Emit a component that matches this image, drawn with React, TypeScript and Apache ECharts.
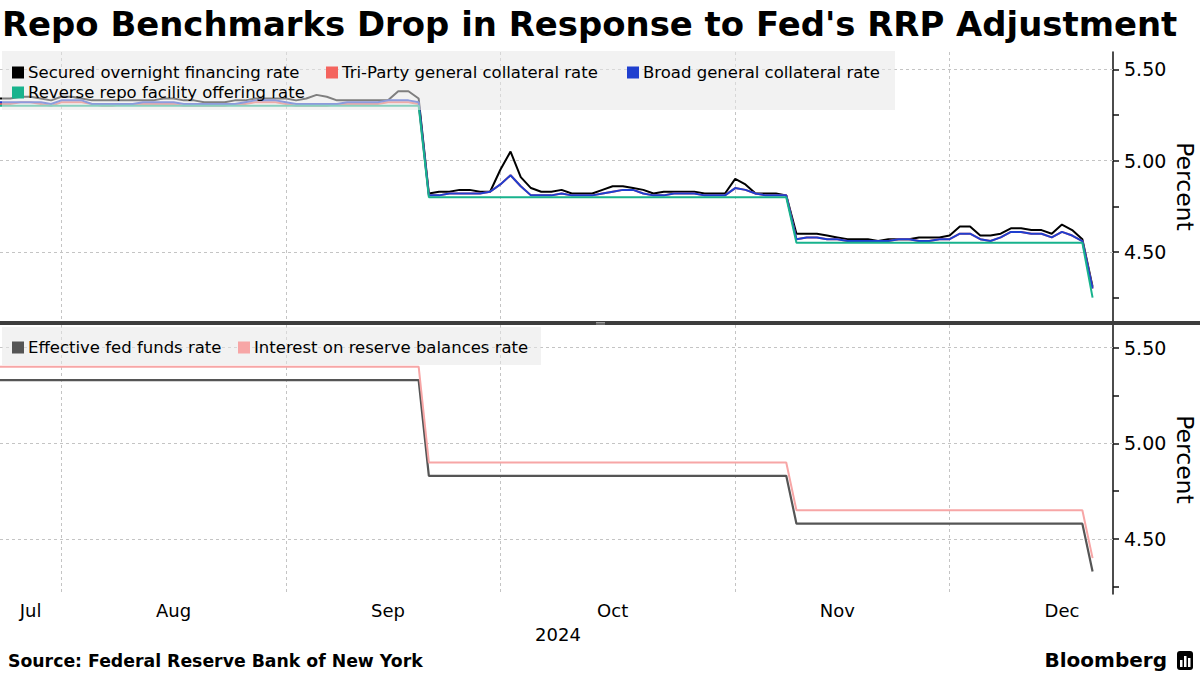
import React, { useEffect, useRef } from "react";
import * as echarts from "echarts";

// ---- categories: weekdays shown on the axis ----
const julDays = [23, 24, 25, 26, 29, 30, 31];
const augDays = [1, 2, 5, 6, 7, 8, 9, 12, 13, 14, 15, 16, 19, 20, 21, 22, 23, 26, 27, 28, 29, 30];
const sepDays = [2, 3, 4, 5, 6, 9, 10, 11, 12, 13, 16, 17, 18, 19, 20, 23, 24, 25, 26, 27, 30];
const octDays = [1, 2, 3, 4, 7, 8, 9, 10, 11, 14, 15, 16, 17, 18, 21, 22, 23, 24, 25, 28, 29, 30, 31];
const novDays = [1, 4, 5, 6, 7, 8, 11, 12, 13, 14, 15, 18, 19, 20, 21, 22, 25, 26, 27, 28, 29];
const decDays = [2, 3, 4, 5, 6, 9, 10, 11, 12, 13, 16, 17, 18, 19, 20, 23];

const monthLabelDates: Record<string, string> = {
  "2024-07-26": "Jul",
  "2024-08-15": "Aug",
  "2024-09-13": "Sep",
  "2024-10-15": "Oct",
  "2024-11-14": "Nov",
  "2024-12-16": "Dec",
};
const monthEndDates = ["2024-07-31", "2024-08-30", "2024-09-30", "2024-10-31", "2024-11-29"];
const yearLabel = "2024";

// ---- top panel series ----
const sofr = [
  5.34, 5.34, 5.35, 5.35, 5.34, 5.33, 5.35,
  5.35, 5.34, 5.33, 5.33, 5.33, 5.33, 5.33, 5.33, 5.33, 5.34, 5.34, 5.33, 5.33, 5.32, 5.32, 5.32, 5.33, 5.33, 5.34, 5.34, 5.34, 5.34,
  5.33, 5.34, 5.36, 5.35, 5.33, 5.33, 5.33, 5.33, 5.33, 5.33, 5.38, 5.38, 5.34, 4.82, 4.83, 4.83, 4.84, 4.84, 4.83, 4.83, 4.95,
  5.05, 4.91, 4.85, 4.83, 4.83, 4.84, 4.82, 4.82, 4.82, 4.84, 4.86, 4.86, 4.85, 4.84, 4.82, 4.83, 4.83, 4.83, 4.83, 4.82, 4.82, 4.82, 4.90,
  4.87, 4.82, 4.82, 4.82, 4.81, 4.60, 4.60, 4.60, 4.59, 4.58, 4.57, 4.57, 4.57, 4.56, 4.57, 4.57, 4.57, 4.58, 4.58, 4.58, 4.59,
  4.64, 4.64, 4.59, 4.59, 4.60, 4.63, 4.63, 4.62, 4.62, 4.60, 4.65, 4.62, 4.57, 4.31,
];
const tgcr = [
  5.31, 5.31, 5.32, 5.32, 5.31, 5.30, 5.32,
  5.32, 5.32, 5.31, 5.30, 5.30, 5.31, 5.31, 5.31, 5.31, 5.31, 5.31, 5.30, 5.30, 5.30, 5.30, 5.30, 5.31, 5.31, 5.32, 5.32, 5.32, 5.31,
  5.30, 5.30, 5.30, 5.30, 5.31, 5.31, 5.31, 5.31, 5.31, 5.32, 5.32, 5.32, 5.31, 4.81, 4.81, 4.82, 4.82, 4.82, 4.82, 4.83, 4.87,
  4.92, 4.86, 4.81, 4.81, 4.81, 4.82, 4.81, 4.81, 4.81, 4.82, 4.83, 4.84, 4.84, 4.82, 4.81, 4.81, 4.82, 4.82, 4.82, 4.81, 4.81, 4.81, 4.85,
  4.84, 4.82, 4.81, 4.81, 4.81, 4.57, 4.58, 4.58, 4.57, 4.57, 4.56, 4.56, 4.56, 4.56, 4.56, 4.57, 4.57, 4.56, 4.56, 4.57, 4.57,
  4.60, 4.60, 4.57, 4.56, 4.58, 4.61, 4.61, 4.60, 4.60, 4.58, 4.61, 4.59, 4.56, 4.30,
];
const bgcr = [
  5.32, 5.32, 5.32, 5.32, 5.32, 5.31, 5.33,
  5.33, 5.33, 5.31, 5.31, 5.31, 5.31, 5.31, 5.32, 5.32, 5.32, 5.32, 5.31, 5.31, 5.31, 5.31, 5.31, 5.31, 5.32, 5.33, 5.33, 5.33, 5.32,
  5.31, 5.31, 5.31, 5.31, 5.31, 5.32, 5.32, 5.32, 5.32, 5.33, 5.33, 5.33, 5.32, 4.81, 4.81, 4.82, 4.82, 4.82, 4.82, 4.83, 4.87,
  4.92, 4.86, 4.81, 4.81, 4.81, 4.82, 4.81, 4.81, 4.81, 4.82, 4.83, 4.84, 4.84, 4.82, 4.81, 4.81, 4.82, 4.82, 4.82, 4.81, 4.81, 4.81, 4.85,
  4.84, 4.82, 4.81, 4.81, 4.81, 4.57, 4.58, 4.58, 4.57, 4.57, 4.56, 4.56, 4.56, 4.56, 4.56, 4.57, 4.57, 4.56, 4.56, 4.57, 4.57,
  4.60, 4.60, 4.57, 4.56, 4.58, 4.61, 4.61, 4.60, 4.60, 4.58, 4.61, 4.59, 4.56, 4.30,
];
// step series given at their change points
const rrp: [string, number][] = [
  ["2024-07-23", 5.3], ["2024-09-18", 5.3], ["2024-09-19", 4.8], ["2024-11-07", 4.8],
  ["2024-11-08", 4.55], ["2024-12-18", 4.55], ["2024-12-19", 4.25],
];
// ---- bottom panel series ----
const effr: [string, number][] = [
  ["2024-07-23", 5.33], ["2024-09-18", 5.33], ["2024-09-19", 4.83], ["2024-11-07", 4.83],
  ["2024-11-08", 4.58], ["2024-12-18", 4.58], ["2024-12-19", 4.33],
];
const iorb: [string, number][] = [
  ["2024-07-23", 5.4], ["2024-09-18", 5.4], ["2024-09-19", 4.9], ["2024-11-07", 4.9],
  ["2024-11-08", 4.65], ["2024-12-18", 4.65], ["2024-12-19", 4.4],
];

const yLabelValues = [4.5, 5.0, 5.5];
const yTickValues = [4.25, 4.5, 4.75, 5.0, 5.25, 5.5];

const pad = (d: number) => (d < 10 ? "0" + d : "" + d);
const dates: string[] = [
  ...julDays.map((d) => `2024-07-${pad(d)}`),
  ...augDays.map((d) => `2024-08-${pad(d)}`),
  ...sepDays.map((d) => `2024-09-${pad(d)}`),
  ...octDays.map((d) => `2024-10-${pad(d)}`),
  ...novDays.map((d) => `2024-11-${pad(d)}`),
  ...decDays.map((d) => `2024-12-${pad(d)}`),
];

const FONT = "DejaVu Sans";
const C = {
  sofr: "#000000",
  tgcr: "#f4645e",
  bgcr: "#1f3fcf",
  rrp: "#18b38d",
  effr: "#555555",
  iorb: "#f7a6a6",
};

export default function App() {
  const ref = useRef<HTMLDivElement>(null);
  useEffect(() => {
    if (!ref.current) return;
    const chart = echarts.init(ref.current, undefined, { renderer: "svg" });

    const gridSplit = {
      show: true,
      interval: (_i: number, v: string) => monthEndDates.indexOf(v) >= 0,
      lineStyle: { color: "#c4c4c4", type: [3, 3] as any, width: 1 },
    };
    const yAxisBase = (gi: number, min: number, max: number) => ({
      type: "value",
      gridIndex: gi,
      position: "right",
      min,
      max,
      axisLine: { show: true, lineStyle: { color: "#111", width: 1.5 } },
      axisTick: {
        show: true,
        customValues: yTickValues,
        length: 6,
        lineStyle: { color: "#111", width: 1.5 },
      },
      axisLabel: {
        customValues: yLabelValues,
        formatter: (v: number) => v.toFixed(2),
        fontSize: 19,
        fontFamily: FONT,
        color: "#000",
        margin: 11,
      },
      splitLine: { show: false },
      name: "Percent",
      nameLocation: "middle",
      nameRotate: -90,
      nameGap: 60,
      nameMoveOverlap: false,
      nameTextStyle: { fontSize: 23.5, fontFamily: FONT, color: "#000" },
    });
    const hGrid = (xi: number, yi: number) => ({
      type: "line",
      xAxisIndex: xi,
      yAxisIndex: yi,
      data: [],
      silent: true,
      z: 1,
      markLine: {
        silent: true,
        z: 1,
        symbol: "none",
        label: { show: false },
        lineStyle: { color: "#c4c4c4", type: [3, 3], width: 1 },
        data: yLabelValues.map((v) => ({ yAxis: v })),
      },
    });
    const lineSeries = (name: string, data: any[], color: string, xi: number, yi: number, w = 2) => ({
      name,
      type: "line",
      xAxisIndex: xi,
      yAxisIndex: yi,
      data,
      showSymbol: false,
      symbol: "none",
      connectNulls: false,
      lineStyle: { color, width: w },
      itemStyle: { color },
      z: 2,
    });
    const legendBase = (names: string[], left: number, top: number) => ({
      data: names,
      left,
      top,
      padding: 0,
      itemWidth: 12,
      itemHeight: 12,
      itemGap: 20,
      icon: "rect",
      selectedMode: false,
      textStyle: { fontSize: 16.5, fontFamily: FONT, color: "#000", padding: [0, 0, 0, -1] },
    });

    const option: any = {
      animation: false,
      backgroundColor: "#ffffff",
      textStyle: { fontFamily: FONT },
      grid: [
        { left: 0, right: 87, top: 52, height: 269, outerBoundsMode: "none", containLabel: false },
        { left: 0, right: 87, top: 325, height: 269, outerBoundsMode: "none", containLabel: false },
      ],
      xAxis: [
        {
          type: "category",
          gridIndex: 0,
          data: dates,
          boundaryGap: false,
          axisLine: { show: false },
          axisTick: { show: false },
          axisLabel: { show: false },
          splitLine: gridSplit,
        },
        {
          type: "category",
          gridIndex: 1,
          data: dates,
          boundaryGap: false,
          axisLine: { show: false },
          axisTick: { show: false },
          axisLabel: {
            show: true,
            interval: (_i: number, v: string) => v in monthLabelDates,
            formatter: (v: string) => monthLabelDates[v] || "",
            fontSize: 18,
            fontFamily: FONT,
            color: "#000",
            margin: 7,
          },
          splitLine: gridSplit,
        },
      ],
      yAxis: [yAxisBase(0, 4.1224, 5.5947), yAxisBase(1, 4.2126, 5.618)],
      legend: [
        legendBase(["Secured overnight financing rate"], 12, 64),
        legendBase(["Tri-Party general collateral rate"], 326, 64),
        legendBase(["Broad general collateral rate"], 627, 64),
        legendBase(["Reverse repo facility offering rate"], 12, 84),
        legendBase(["Effective fed funds rate"], 12, 339),
        legendBase(["Interest on reserve balances rate"], 238, 339),
      ],
      series: [
        hGrid(0, 0),
        hGrid(1, 1),
        lineSeries("Secured overnight financing rate", sofr, C.sofr, 0, 0),
        lineSeries("Tri-Party general collateral rate", tgcr, C.tgcr, 0, 0),
        lineSeries("Broad general collateral rate", bgcr, C.bgcr, 0, 0),
        lineSeries("Reverse repo facility offering rate", rrp, C.rrp, 0, 0),
        lineSeries("Effective fed funds rate", effr, C.effr, 1, 1, 2.2),
        lineSeries("Interest on reserve balances rate", iorb, C.iorb, 1, 1),
      ],
      graphic: [
        {
          type: "rect",
          z: 3,
          shape: { x: 2, y: 51, width: 893, height: 59 },
          style: { fill: "rgba(232,232,232,0.55)" },
          silent: true,
        },
        {
          type: "rect",
          z: 3,
          shape: { x: 2, y: 327, width: 539, height: 38 },
          style: { fill: "rgba(232,232,232,0.55)" },
          silent: true,
        },
        {
          type: "rect",
          z: 10,
          shape: { x: 0, y: 321, width: 1200, height: 4 },
          style: { fill: "#3d3d3d" },
          silent: true,
        },
        {
          type: "line",
          z: 11,
          shape: { x1: 596, y1: 322.5, x2: 605, y2: 322.5 },
          style: { stroke: "#9a9a9a", lineWidth: 1 },
        },
        {
          type: "line",
          z: 11,
          shape: { x1: 596, y1: 324, x2: 605, y2: 324 },
          style: { stroke: "#9a9a9a", lineWidth: 1 },
        },
        {
          type: "text",
          z: 10,
          x: 2,
          y: 24,
          style: {
            text: "Repo Benchmarks Drop in Response to Fed's RRP Adjustment",
            fontSize: 33.9,
            fontWeight: "bold",
            fontFamily: FONT,
            fill: "#000",
            align: "left",
            verticalAlign: "middle",
          },
        },
        {
          type: "text",
          z: 10,
          x: 558,
          y: 634,
          style: {
            text: yearLabel,
            fontSize: 18,
            fontFamily: FONT,
            fill: "#000",
            align: "center",
            verticalAlign: "middle",
          },
        },
        {
          type: "text",
          z: 10,
          x: 8,
          y: 661,
          style: {
            text: "Source: Federal Reserve Bank of New York",
            fontSize: 17.3,
            fontWeight: "bold",
            fontFamily: FONT,
            fill: "#000",
            align: "left",
            verticalAlign: "middle",
          },
        },
        {
          type: "text",
          z: 10,
          x: 1167,
          y: 660,
          style: {
            text: "Bloomberg",
            fontSize: 20,
            fontWeight: "bold",
            fontFamily: FONT,
            fill: "#000",
            align: "right",
            verticalAlign: "middle",
          },
        },
        {
          type: "rect",
          z: 10,
          shape: { x: 1177, y: 651, width: 16, height: 19, r: 3 },
          style: { fill: "#000" },
        },
        {
          type: "rect",
          z: 11,
          shape: { x: 1180, y: 660, width: 2.5, height: 7 },
          style: { fill: "#fff" },
        },
        {
          type: "rect",
          z: 11,
          shape: { x: 1184, y: 656, width: 2.5, height: 11 },
          style: { fill: "#fff" },
        },
        {
          type: "rect",
          z: 11,
          shape: { x: 1188, y: 658, width: 2.5, height: 9 },
          style: { fill: "#fff" },
        },
      ],
    };
    chart.setOption(option);
    return () => chart.dispose();
  }, []);
  return (
    <div
      ref={ref}
      style={{ position: "absolute", left: 0, top: 0, width: 1200, height: 675 }}
    />
  );
}
